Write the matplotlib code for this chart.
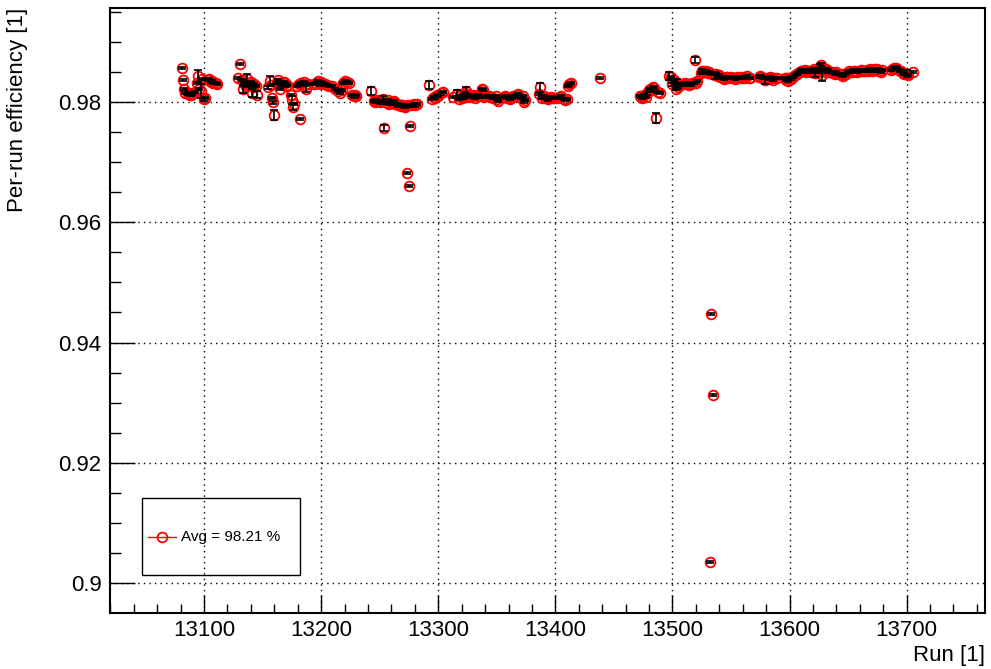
import numpy as np
import matplotlib.pyplot as plt
from matplotlib.ticker import MultipleLocator
from matplotlib.lines import Line2D
from matplotlib.patches import Rectangle

plt.rcParams['font.family'] = ['Liberation Sans', 'DejaVu Sans']

# run numbers and per-run efficiency
runs = [
    13081, 13082, 13083, 13084, 13086, 13087, 13088, 13089, 13090, 13092,
    13094, 13095, 13096, 13097, 13098, 13100, 13101, 13103, 13104, 13106,
    13107, 13108, 13110, 13111,
    13129, 13131, 13132, 13133, 13134, 13135, 13136, 13137, 13138, 13139,
    13140, 13141, 13142, 13143, 13144, 13145,
    13155, 13156, 13157, 13158, 13159, 13160, 13162, 13163, 13164, 13165,
    13166, 13168, 13169, 13170, 13171, 13174, 13175, 13176, 13177, 13179,
    13181, 13182, 13183, 13185, 13186, 13187, 13189,
    13194, 13196, 13197, 13199, 13200, 13201, 13203, 13205, 13207, 13209,
    13212, 13214, 13216, 13218, 13219, 13220, 13222, 13224, 13226, 13228,
    13229, 13230,
    13243, 13245, 13246, 13247, 13248, 13250, 13251, 13253, 13254, 13255,
    13256, 13257, 13258, 13260, 13261, 13262, 13263, 13265, 13266, 13267,
    13268, 13269, 13271, 13272, 13273, 13274, 13275, 13276, 13277, 13279,
    13280, 13282, 13292, 13295, 13296, 13297, 13299, 13300, 13302, 13304,
    13313, 13316, 13318, 13319, 13320, 13321, 13322, 13323, 13324, 13325,
    13326, 13327, 13329, 13330, 13331, 13333, 13334, 13335, 13337, 13338,
    13339, 13341, 13343, 13345, 13347, 13349, 13350, 13351, 13356, 13357,
    13358, 13359, 13361, 13362, 13364, 13365, 13367, 13368, 13369, 13371,
    13372, 13373, 13374,
    13386, 13387, 13389, 13390, 13391, 13393, 13394, 13396, 13398, 13399,
    13401, 13403, 13405, 13407, 13408, 13410, 13411, 13412, 13413, 13438,
    13472, 13473, 13474, 13475, 13476, 13477, 13478, 13480, 13481, 13482,
    13483, 13484, 13486, 13488, 13489,
    13497, 13499, 13500, 13501, 13502, 13503, 13504, 13505, 13506, 13508,
    13509, 13511, 13512, 13514, 13516, 13517, 13519, 13520, 13521,
    13524, 13525, 13526, 13527, 13529, 13530, 13531, 13532, 13533, 13534,
    13535, 13536, 13537, 13539, 13540, 13541, 13543, 13544, 13546, 13547,
    13548, 13550, 13551, 13553, 13555, 13556, 13558, 13559, 13561, 13562,
    13564, 13565, 13566, 13574, 13575, 13576, 13577, 13579, 13580, 13582,
    13583, 13585, 13586, 13587, 13589,
    13596, 13597, 13598, 13599, 13601, 13602, 13603, 13605, 13606, 13607,
    13609, 13610, 13611, 13613, 13614, 13615, 13617, 13618, 13620, 13621,
    13622, 13624, 13625, 13626, 13627, 13628, 13629, 13630, 13631, 13633,
    13634, 13636, 13637, 13639, 13640, 13642, 13644, 13645, 13646, 13648,
    13650, 13651, 13653, 13655, 13656, 13658, 13660, 13661, 13663, 13664,
    13666, 13667, 13669, 13670, 13672, 13673, 13675, 13676, 13678, 13679,
    13687, 13688, 13689, 13691, 13692, 13694, 13695, 13697, 13698, 13700,
    13701, 13705,
]

eff = [
    0.9856, 0.9836, 0.9822, 0.9815, 0.9813, 0.9814, 0.9812, 0.9811, 0.9813, 0.9816,
    0.9832, 0.9843, 0.9822, 0.9818, 0.9838, 0.9804, 0.9806, 0.9836, 0.9838, 0.9833,
    0.9834, 0.9831, 0.9832, 0.9830,
    0.9840, 0.9863, 0.9836, 0.9821, 0.9832, 0.9829, 0.9826, 0.9838, 0.9831, 0.9828,
    0.9833, 0.9815, 0.9825, 0.9830, 0.9827, 0.9812,
    0.9824, 0.9835, 0.9828, 0.9807, 0.9799, 0.9778, 0.9832, 0.9836, 0.9831, 0.9821,
    0.9829, 0.9833, 0.9831, 0.9826, 0.9828, 0.9812, 0.9803, 0.9792, 0.9797, 0.9826,
    0.9830, 0.9771, 0.9831, 0.9833, 0.9828, 0.9822, 0.9830,
    0.9830, 0.9832, 0.9834, 0.9829, 0.9833, 0.9831, 0.9830, 0.9828, 0.9826, 0.9827,
    0.9822, 0.9818, 0.9815, 0.9820, 0.9831, 0.9834, 0.9833, 0.9831, 0.9812, 0.9809,
    0.9811, 0.9810,
    0.9818, 0.9802, 0.9800, 0.9803, 0.9801, 0.9799, 0.9802, 0.9804, 0.9757, 0.9800,
    0.9798, 0.9803, 0.9797, 0.9800, 0.9799, 0.9801, 0.9796, 0.9797, 0.9794, 0.9795,
    0.9793, 0.9794, 0.9793, 0.9792, 0.9682, 0.9794, 0.9660, 0.9760, 0.9795, 0.9796,
    0.9794, 0.9797, 0.9828, 0.9805, 0.9808, 0.9806, 0.9812, 0.9810, 0.9814, 0.9816,
    0.9808, 0.9813, 0.9805, 0.9810, 0.9806, 0.9808, 0.9812, 0.9815, 0.9818, 0.9810,
    0.9808, 0.9812, 0.9809, 0.9811, 0.9807, 0.9810, 0.9812, 0.9809, 0.9822, 0.9820,
    0.9808, 0.9810, 0.9809, 0.9808, 0.9806, 0.9810, 0.9805, 0.9801, 0.9808, 0.9810,
    0.9808, 0.9806, 0.9805, 0.9807, 0.9810, 0.9809, 0.9812, 0.9813, 0.9808, 0.9806,
    0.9810, 0.9800, 0.9803,
    0.9813, 0.9824, 0.9806, 0.9809, 0.9807, 0.9806, 0.9804, 0.9808, 0.9807, 0.9806,
    0.9806, 0.9808, 0.9810, 0.9805, 0.9803, 0.9805, 0.9826, 0.9829, 0.9831, 0.9839,
    0.9810, 0.9808, 0.9806, 0.9809, 0.9811, 0.9808, 0.9814, 0.9820, 0.9822, 0.9819,
    0.9825, 0.9823, 0.9773, 0.9817, 0.9815,
    0.9843, 0.9841, 0.9829, 0.9836, 0.9832, 0.9821, 0.9830, 0.9825, 0.9828, 0.9830,
    0.9829, 0.9832, 0.9830, 0.9828, 0.9829, 0.9831, 0.9869, 0.9831, 0.9835,
    0.9848, 0.9852, 0.9851, 0.9849, 0.9851, 0.9848, 0.9849, 0.9036, 0.9447, 0.9847,
    0.9313, 0.9844, 0.9846, 0.9843, 0.9845, 0.9841, 0.9840, 0.9838, 0.9842, 0.9841,
    0.9839, 0.9841, 0.9840, 0.9838, 0.9841, 0.9840, 0.9842, 0.9839, 0.9841, 0.9840,
    0.9843, 0.9840, 0.9839, 0.9841, 0.9843, 0.9841, 0.9840, 0.9836, 0.9839, 0.9838,
    0.9841, 0.9840, 0.9837, 0.9840, 0.9839,
    0.9840, 0.9837, 0.9839, 0.9835, 0.9838, 0.9841, 0.9842, 0.9844, 0.9846, 0.9848,
    0.9850, 0.9852, 0.9851, 0.9853, 0.9850, 0.9852, 0.9851, 0.9849, 0.9852, 0.9854,
    0.9848, 0.9855, 0.9850, 0.9858, 0.9862, 0.9845, 0.9853, 0.9850, 0.9855, 0.9852,
    0.9849, 0.9850, 0.9848, 0.9847, 0.9849, 0.9846, 0.9845, 0.9847, 0.9843, 0.9846,
    0.9849, 0.9851, 0.9850, 0.9852, 0.9851, 0.9850, 0.9852, 0.9853, 0.9851, 0.9852,
    0.9853, 0.9852, 0.9854, 0.9852, 0.9855, 0.9853, 0.9854, 0.9852, 0.9849, 0.9853,
    0.9853, 0.9855, 0.9856, 0.9857, 0.9854, 0.9852, 0.9851, 0.9848, 0.9846, 0.9847,
    0.9845, 0.9849,
]

# runs with visibly larger error bars; the rest are small
big_err = {
    13095: 0.0010, 13097: 0.0012, 13133: 0.0006, 13137: 0.0008, 13141: 0.0007,
    13145: 0.0006, 13156: 0.0008, 13160: 0.0008, 13175: 0.0006, 13176: 0.0006,
    13187: 0.0006, 13243: 0.0006, 13253: 0.0005, 13254: 0.0005, 13292: 0.0007,
    13316: 0.0007, 13321: 0.0004, 13324: 0.0007, 13387: 0.0008, 13486: 0.0008,
    13497: 0.0006, 13504: 0.0008, 13519: 0.0005, 13536: 0.0006, 13579: 0.0006,
    13622: 0.0006, 13626: 0.0005, 13628: 0.0010, 13700: 0.0006,
}
err = [big_err.get(r, 0.00018) for r in runs]

avg_label = 'Avg = 98.21 %'

W, H = 991, 669
fig = plt.figure(figsize=(W / 100, H / 100), dpi=100)
ax = fig.add_axes([110 / W, 1 - 613 / H, 875 / W, 605 / H])

ax.plot(runs, eff, 'o', ms=7, mfc='none', mec='red', mew=1.3, zorder=3)
ax.errorbar(runs, eff, yerr=err, fmt='none', ecolor='black', elinewidth=1.2,
            capsize=3, capthick=1.2, zorder=4)

ax.set_xlim(13019.7, 13766.9)
ax.set_ylim(0.89506, 0.9956)
ax.xaxis.set_major_locator(MultipleLocator(100))
ax.xaxis.set_minor_locator(MultipleLocator(20))
ax.yaxis.set_major_locator(MultipleLocator(0.02))
ax.yaxis.set_minor_locator(MultipleLocator(0.005))
ax.yaxis.set_major_formatter(plt.FuncFormatter(lambda v, p: f'{v:g}'))

ax.grid(True, which='major', color='black', linestyle=(0, (1, 3)), linewidth=1.0)
ax.tick_params(axis='both', which='both', direction='in', labelsize=16,
               width=1.0, top=False, right=False)
ax.tick_params(axis='x', which='major', length=13, pad=5)
ax.tick_params(axis='x', which='minor', length=6.5)
ax.tick_params(axis='y', which='major', length=18, pad=6)
ax.tick_params(axis='y', which='minor', length=8)
for s in ax.spines.values():
    s.set_linewidth(1.5)

fig.text(985 / W, 1 - 655 / H, 'Run [1]', ha='right', va='center', fontsize=16)
fig.text(18 / W, 1 - 8 / H, 'Per-run efficiency [1]', ha='center', va='top',
         rotation=90, fontsize=16)

# legend box drawn by hand to match the reference placement
fig.patches.append(Rectangle((142 / W, 1 - 575 / H), 158 / W, 77 / H,
                             transform=fig.transFigure, fill=False,
                             edgecolor='black', linewidth=1.0))
fig.lines.append(Line2D([148 / W, 176 / W], [1 - 537 / H, 1 - 537 / H],
                        transform=fig.transFigure, color='red', lw=1.0))
fig.lines.append(Line2D([162 / W], [1 - 537 / H], transform=fig.transFigure,
                        marker='o', ms=7, mfc='none', mec='red', mew=1.3))
fig.text(181 / W, 1 - 537 / H, avg_label, ha='left', va='center', fontsize=11)

fig.savefig('out.png', dpi=100)
